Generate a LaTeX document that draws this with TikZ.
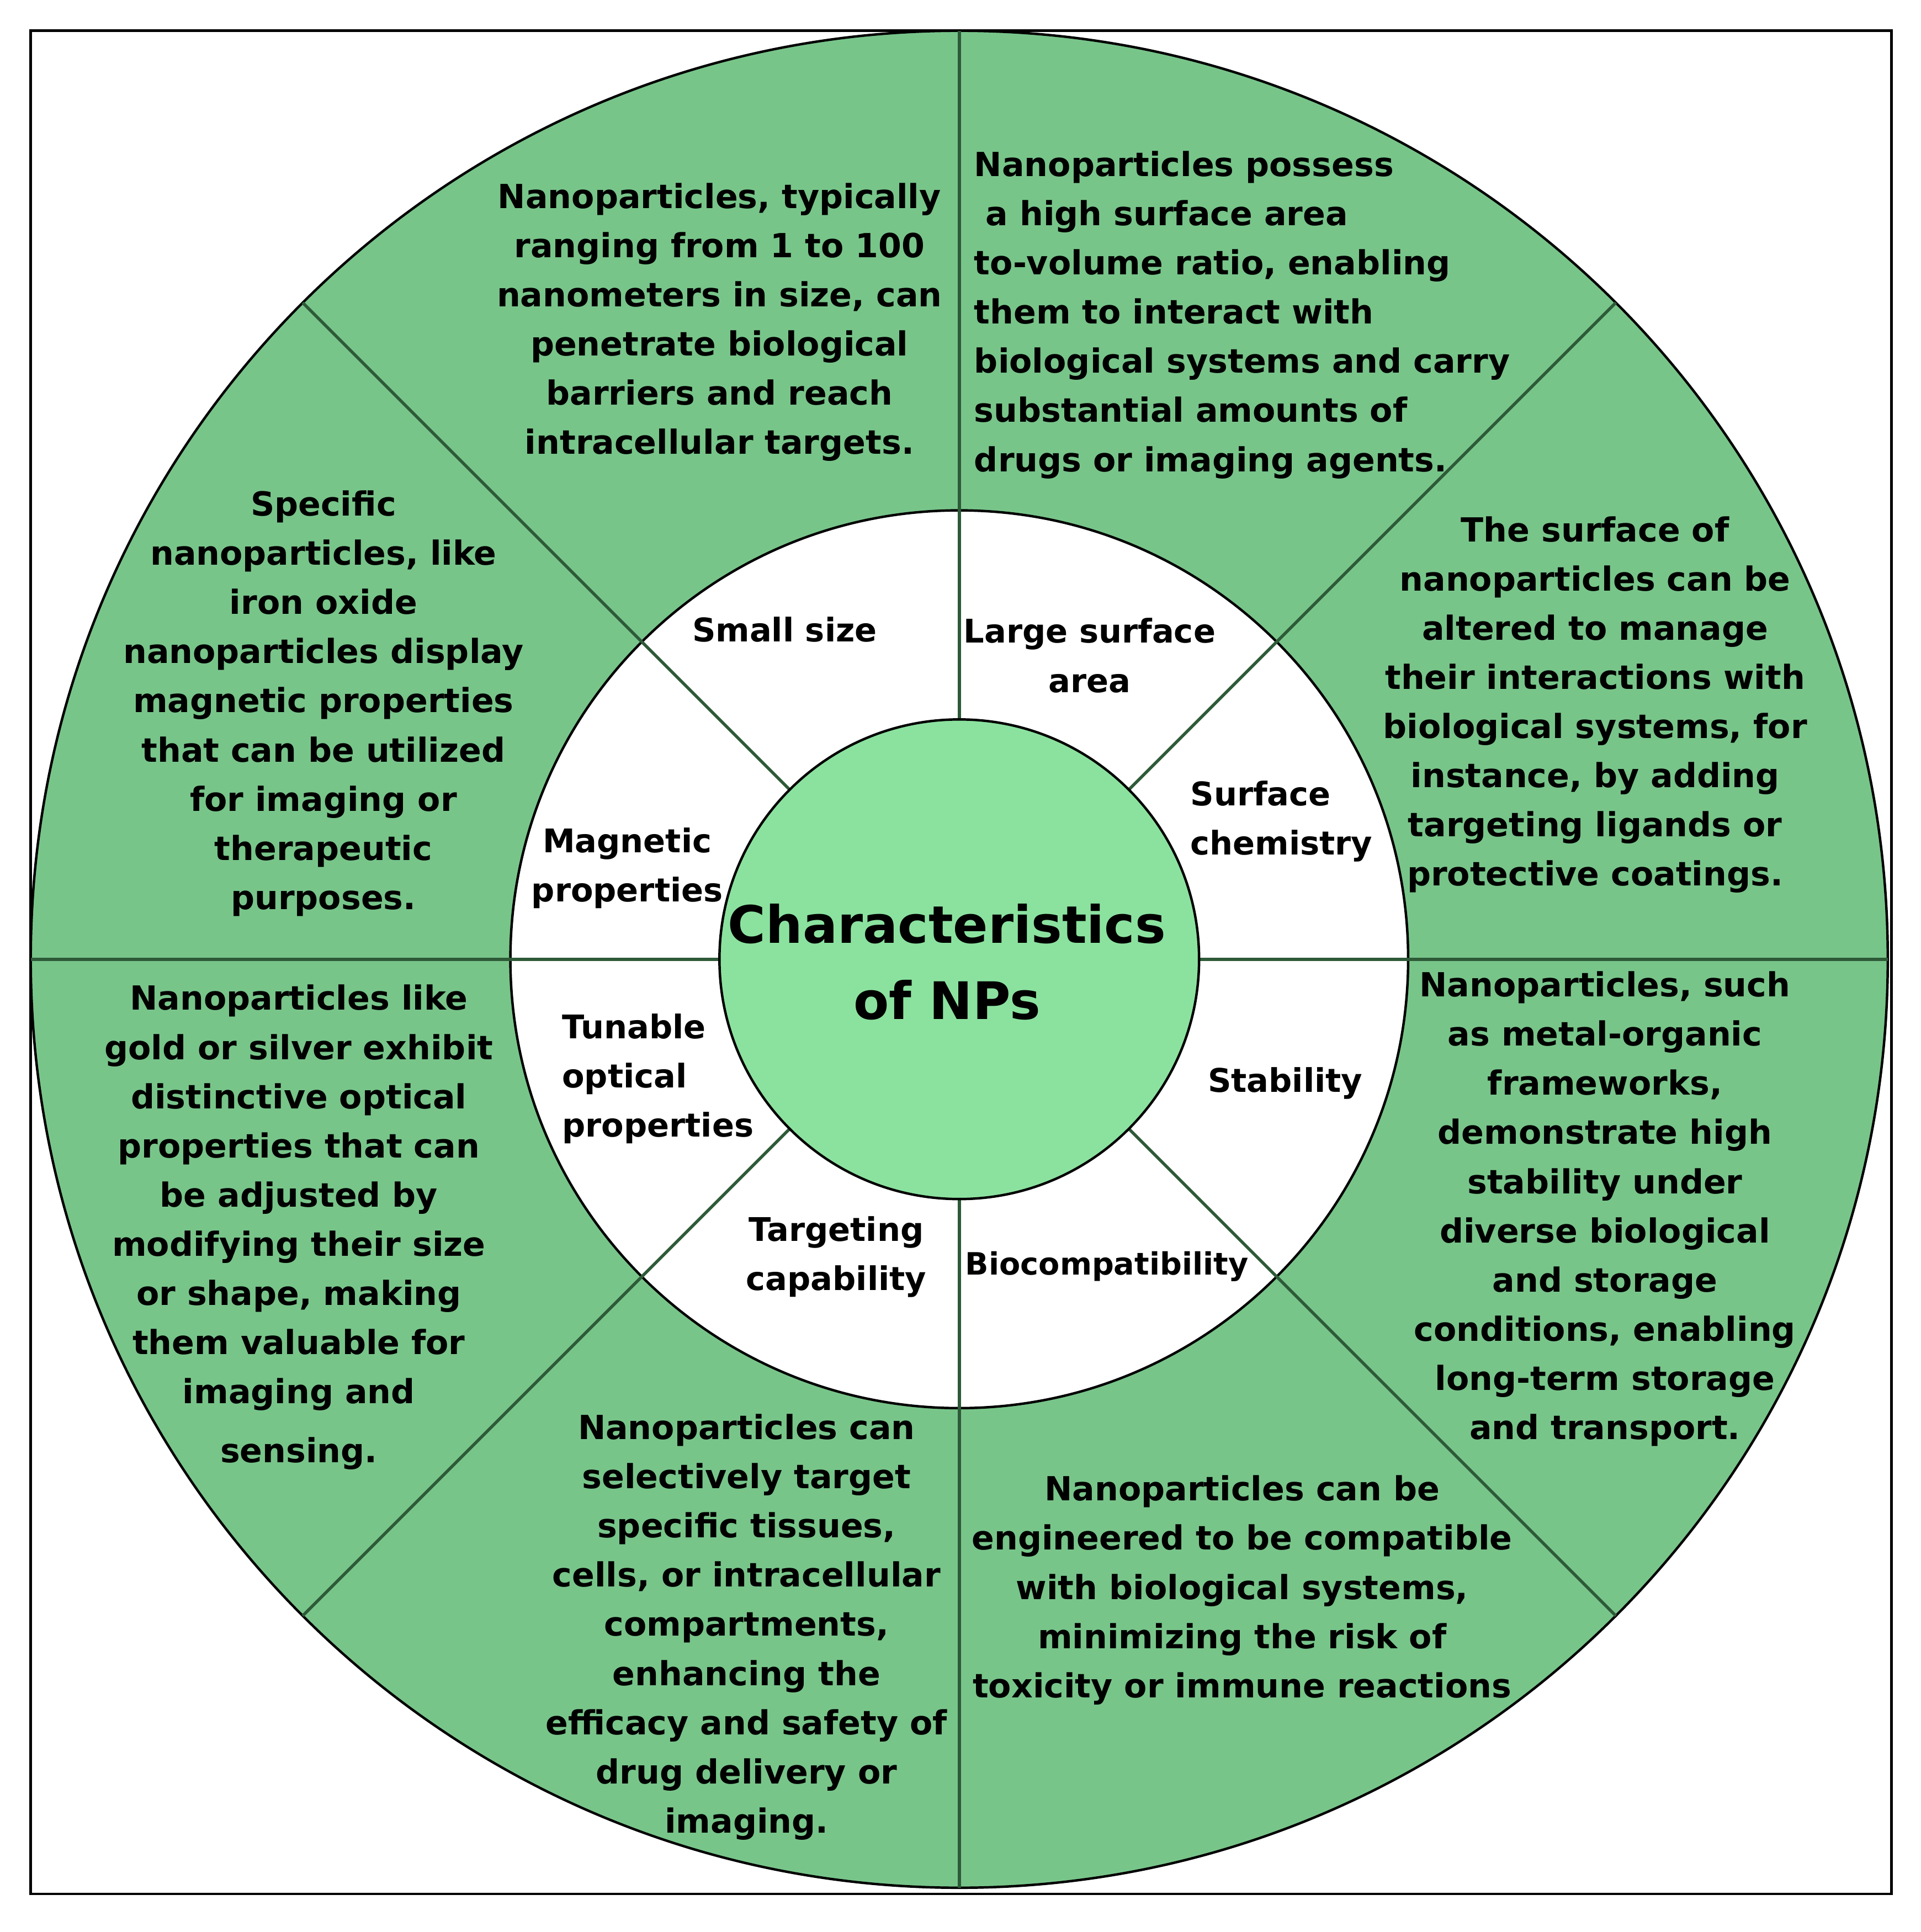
\documentclass[tikz,border=0pt]{standalone}
\usepackage{fontspec}
\setmainfont{DejaVu Sans}
\begin{document}
\begin{tikzpicture}[x=1pt,y=-1pt,
  body/.style={font=\fontsize{27}{40}\selectfont\bfseries, align=center, inner sep=0},
  lab/.style={font=\fontsize{26.5}{40}\selectfont\bfseries, align=center, inner sep=0},
  sep/.style={draw=linegreen, line width=2.5pt}]
\definecolor{outergreen}{HTML}{78C58A}
\definecolor{innergreen}{HTML}{8BE29F}
\definecolor{linegreen}{HTML}{2E5A38}
\useasboundingbox (0,0) rectangle (1562,1571);
\draw[line width=2pt] (25,25) rectangle (1538,1540);
\coordinate (c) at (780,780);
\fill[outergreen] (c) circle (755);
\draw[black, line width=2pt] (c) circle (755);
\fill[white] (c) circle (365);
\draw[black, line width=2pt] (c) circle (365);
\foreach \a in {0,45,...,315} {
  \draw[sep] (c) ++(\a:195) -- ++(\a:560);
}
\node[draw=black, line width=2pt, fill=innergreen, circle, minimum size=390, inner sep=0] (core) at (c) {};
\node[font=\fontsize{42}{62}\selectfont\bfseries, align=center] (title) at (770,782) {Characteristics\\of NPs};
% inner labels
\node[lab] (l1) at (638,512) {Small size};
\node[lab] (l2) at (886,533) {Large surface\\area};
\node[lab, align=left] (l3) at (1042,668) {Surface\\chemistry};
\node[lab] (l4) at (1045,881) {Stability};
\node[lab, font=\fontsize{25}{40}\selectfont\bfseries] (l5) at (900,1030) {Biocompatibility};
\node[lab] (l6) at (680,1022) {Targeting\\capability};
\node[lab, align=left] (l7) at (535,877) {Tunable\\optical\\properties};
\node[lab] (l8) at (510,706) {Magnetic\\properties};
% outer texts
\node[body] (t1) at (585,262) {Nanoparticles, typically\\ranging from 1 to 100\\nanometers in size, can\\penetrate biological\\barriers and reach\\intracellular targets.};
\node[body, align=left, anchor=west] (t2) at (792,256) {Nanoparticles possess\\\ a high surface area\\to-volume ratio, enabling\\them to interact with\\biological systems and carry\\substantial amounts of\\drugs or imaging agents.};
\node[body] (t3) at (1297,573) {The surface of\\nanoparticles can be\\altered to manage\\their interactions with\\biological systems, for\\instance, by adding\\targeting ligands or\\protective coatings.};
\node[body] (t4) at (1305,983) {Nanoparticles, such\\as metal-organic\\frameworks,\\demonstrate high\\stability under\\diverse biological\\and storage\\conditions, enabling\\long-term storage\\and transport.};
\node[body] (t5) at (1010,1293) {Nanoparticles can be\\engineered to be compatible\\with biological systems,\\minimizing the risk of\\toxicity or immune reactions};
\node[body] (t6) at (607,1323) {Nanoparticles can\\selectively target\\specific tissues,\\cells, or intracellular\\compartments,\\enhancing the\\efficacy and safety of\\drug delivery or\\imaging.};
\node[body] (t7) at (243,998) {Nanoparticles like\\gold or silver exhibit\\distinctive optical\\properties that can\\be adjusted by\\modifying their size\\or shape, making\\them valuable for\\imaging and\\[8pt]sensing.};
\node[body] (t8) at (263,572) {Specific\\nanoparticles, like\\iron oxide\\nanoparticles display\\magnetic properties\\that can be utilized\\for imaging or\\therapeutic\\purposes.};
\end{tikzpicture}
\end{document}
